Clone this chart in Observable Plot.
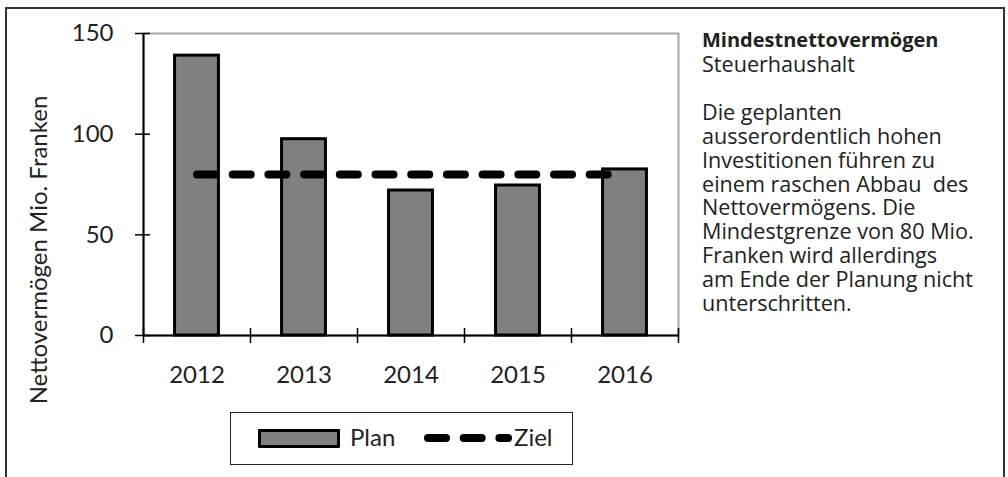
<!DOCTYPE html>
<html>
<head>
<meta charset="utf-8">
<script src="https://cdn.jsdelivr.net/npm/d3@7"></script>
<script src="https://cdn.jsdelivr.net/npm/@observablehq/plot@0.6"></script>
<style>
  html, body { margin: 0; padding: 0; background: #fff; }
  #wrap { position: relative; width: 1008px; height: 477px; overflow: hidden; }
  #frame { position: absolute; left: 5px; top: 7px; width: 996px; height: 480px;
           border-left: 2px solid #333; border-top: 2px solid #333; border-right: 2px solid #333; }
  #chart { position: absolute; left: 0; top: 0; }
  #ylabel { position: absolute; left: 0; top: 0; width: 400px; height: 30px; line-height: 30px;
            text-align: center; transform-origin: 0 0;
            transform: translate(23px, 450px) rotate(-90deg);
            font-family: Lato, sans-serif; font-size: 24px; white-space: nowrap; color: #222; }
  #side { position: absolute; left: 702px; top: 27px; font-family: "Open Sans", sans-serif;
          font-size: 21.6px; line-height: 23.9px; color: #222; }
  #side b { font-weight: 700; font-size: 20px; }
  #side .gap { height: 24px; }
  #legend { position: absolute; left: 230px; top: 412px; width: 341px; height: 51px;
            border: 1px solid #222; font-family: Lato, sans-serif; font-size: 24px; color: #222; }
  #legend .sw { position: absolute; left: 27px; top: 16px; width: 76px; height: 13px;
                background: #808080; border: 3px solid #000; border-radius: 1px; }
  #legend .t1 { position: absolute; left: 119px; top: 9px; }
  #legend svg { position: absolute; left: 0; top: 0; }
  #legend .t2 { position: absolute; left: 283px; top: 9px; }
</style>
</head>
<body>
<div id="wrap">
  <div id="frame"></div>
  <div id="chart"></div>
  <div id="ylabel"></div>
  <div id="side"></div>
  <div id="legend"></div>
</div>
<script>
// ---- data ----
const years = [2012, 2013, 2014, 2015, 2016];
const plan = [139, 97.5, 72, 74.5, 82.5];
const ziel = [80, 80, 80, 80, 80];
const yTicks = [0, 50, 100, 150];
const seriesNames = ["Plan", "Ziel"];
const yLabel = "Nettovermögen Mio. Franken";
const sideTitle = "Mindestnettovermögen";
const sideSubtitle = "Steuerhaushalt";
const sideText = [
  "Die geplanten",
  "ausserordentlich hohen",
  "Investitionen führen zu",
  "einem raschen Abbau\u00a0 des",
  "Nettovermögens. Die",
  "Mindestgrenze von 80 Mio.",
  "Franken wird allerdings",
  "am Ende der Planung nicht",
  "unterschritten."
];

const rows = years.map((y, i) => ({year: y, plan: plan[i], ziel: ziel[i]}));
const bounds = [years[0] - 0.5, ...years.map(y => y + 0.5)];
const half = 0.205;
const dash = "18,17.7";

const chart = Plot.plot({
  width: 1008,
  height: 477,
  marginLeft: 143,
  marginRight: 330,
  marginTop: 33,
  marginBottom: 142,
  style: {fontFamily: "Lato, sans-serif", fontSize: "24px", color: "#222", background: "transparent"},
  x: {type: "linear", domain: [bounds[0], bounds[bounds.length - 1]]},
  y: {domain: [0, 150]},
  marks: [
    Plot.frame({stroke: "#a6a6a6", strokeWidth: 2}),
    Plot.rectY(rows, {x1: d => d.year - half, x2: d => d.year + half, y1: 0, y2: "plan",
                      fill: "#808080", stroke: "#000", strokeWidth: 3}),
    Plot.ruleY([0], {stroke: "#000", strokeWidth: 2}),
    Plot.ruleX([bounds[0]], {stroke: "#000", strokeWidth: 2}),
    Plot.axisY({ticks: yTicks, tickSize: 15, dx: 7, tickPadding: 22, label: null,
                stroke: "#000", strokeWidth: 1.5, fontSize: 24}),
    Plot.axisX({ticks: bounds, tickSize: 15, dy: -7, tickFormat: () => "", label: null,
                stroke: "#000", strokeWidth: 1.5}),
    Plot.axisX({ticks: years, tickSize: 0, tickPadding: 30, tickFormat: d => String(d),
                label: null, fontSize: 24}),
    Plot.lineY(rows, {x: "year", y: "ziel", stroke: "#000", strokeWidth: 8,
                      strokeLinecap: "round", strokeDasharray: dash})
  ]
});
document.getElementById("chart").append(chart);

document.getElementById("ylabel").textContent = yLabel;

const side = document.getElementById("side");
side.innerHTML = `<b>${sideTitle}</b><br>${sideSubtitle}<div class="gap"></div>` + sideText.join("<br>");

const lg = document.getElementById("legend");
lg.innerHTML = `<div class="sw"></div><div class="t1">${seriesNames[0]}</div>
<svg width="341" height="51"><line x1="197" x2="277" y1="25" y2="25" stroke="#000" stroke-width="8"
 stroke-linecap="round" stroke-dasharray="${dash}"/></svg>
<div class="t2">${seriesNames[1]}</div>`;
</script>
</body>
</html>
